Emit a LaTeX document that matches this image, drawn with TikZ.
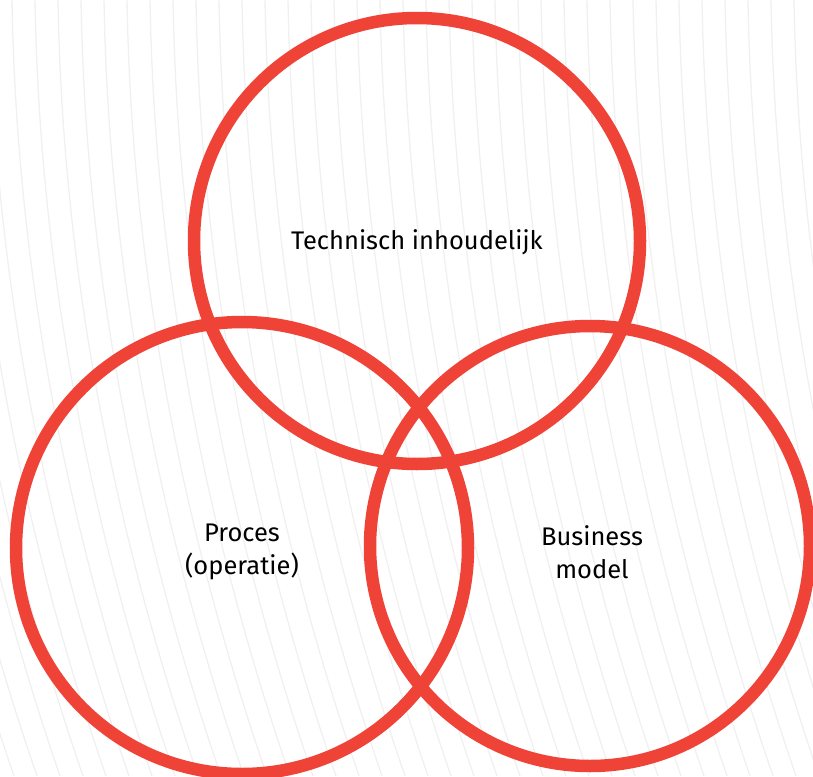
\documentclass[tikz,border=0pt]{standalone}
\usepackage{fontspec}
\setmainfont{Fira Sans}
\definecolor{ringred}{RGB}{239,67,56}
\definecolor{bgline}{RGB}{240,240,240}
\begin{document}
\begin{tikzpicture}[x=1pt,y=-1pt,
  ring/.style={draw=ringred,line width=12.5pt},
  bgstroke/.style={draw=bgline,line width=1.3pt},
  label/.style={font=\fontsize{25.5}{33}\selectfont,align=center,text=black}]
\useasboundingbox (0,0) rectangle (813,776);
\begin{scope}
\clip (0,0) rectangle (813,776);
\foreach \x in {-172,-149,...,830}{
  \draw[bgstroke] (\x,0) .. controls (\x+4.4,258.7) and (\x+51.1,517.3) .. (\x+140,776);
}
\end{scope}
\node[circle,ring,minimum size=446pt] (top) at (417,241) {};
\node[circle,ring,minimum size=452pt] (left) at (242,548) {};
\node[circle,ring,minimum size=440pt] (right) at (590,546) {};
\node[label] (tl) at (417,242) {Technisch inhoudelijk};
\node[label] (ll) at (242,552) {Proces\\(operatie)};
\node[label] (rl) at (592,552) {Business\\model};
\end{tikzpicture}
\end{document}
